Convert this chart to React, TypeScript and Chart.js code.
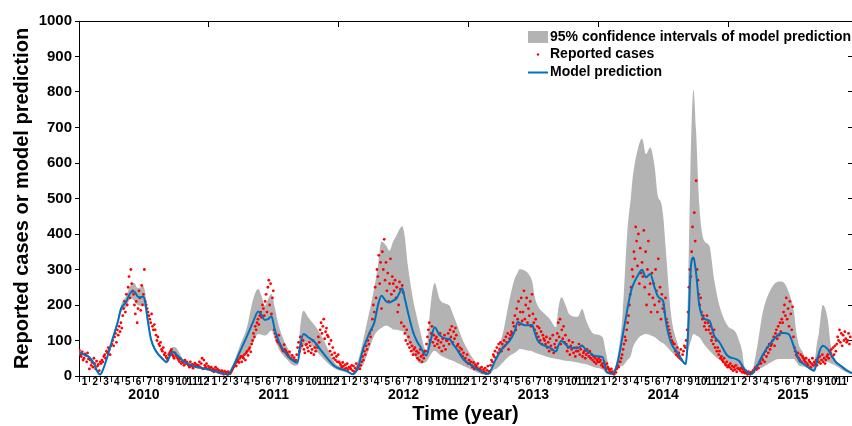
import React, { useEffect, useRef } from 'react';
import { Chart, registerables } from 'chart.js';

Chart.register(...registerables);

const FONT = '"Liberation Sans", Arial, Helvetica, sans-serif';
const BAND = 'rgb(179,179,179)';
const RED = 'rgb(255,0,0)';
const BLUE = 'rgb(0,114,189)';

const monthLabels = ['1', '2', '3', '4', '5', '6', '7', '8', '9', '10', '11', '12'];
const yearLabels = ['2010', '2011', '2012', '2013', '2014', '2015'];
const xMaxMonth = 71.45;
const legendLabels = ['95% confidence intervals of model prediction', 'Reported cases', 'Model prediction'];

// Model prediction knots (months since Jan 2010)
const predMonth = [
  0, 0.5, 0.95, 1.4, 1.72, 1.94, 2.18, 2.65, 3.1, 3.57,
  3.88, 4.34, 4.8, 5.1, 5.42, 5.72, 5.88, 6.1, 6.34, 6.65,
  7.1, 7.73, 8.1, 8.34, 8.65, 8.96, 9.3, 9.57, 10.5, 12,
  12.96, 13.5, 13.8, 14.2, 14.87, 15.5, 16.1, 16.56, 16.87, 17.17,
  17.48, 17.79, 18.1, 18.4, 18.56, 19.18, 19.95, 20.2, 20.45, 20.75,
  21.2, 21.8, 22.4, 23, 23.6, 24.25, 24.7, 25.3, 25.8, 26.26,
  26.56, 26.87, 27.3, 27.64, 27.95, 28.4, 28.7, 29, 29.33, 29.64,
  29.88, 30.1, 30.4, 30.87, 31.2, 31.5, 32.1, 32.5, 32.87, 33.33,
  33.95, 34.26, 34.56, 34.87, 35.5, 36.4, 37, 37.8, 38.4, 38.57,
  39.2, 39.8, 40.26, 40.56, 40.7, 41.2, 41.6, 41.9, 42.1, 42.4,
  42.7, 43.5, 44.1, 44.3, 44.6, 45, 45.3, 46.1, 46.5, 46.9,
  47.3, 47.6, 48.4, 48.7, 49, 49.3, 49.8, 50.26, 50.7, 51,
  51.2, 51.65, 52.05, 52.4, 52.8, 53.2, 53.5, 53.8, 54, 54.26,
  54.7, 55.3, 55.95, 56.1, 56.3, 56.57, 56.8, 57.03, 57.34, 57.8,
  58.26, 58.7, 59.2, 59.95, 60.7, 61, 61.3, 61.5, 61.8, 62.1,
  62.7, 63.2, 63.96, 64.7, 65.1, 65.6, 66.1, 66.3, 66.57, 66.9,
  67.2, 67.96, 68.2, 68.4, 68.75, 69.2, 69.5, 69.95, 70.4, 71, 71.45,
];
const predMid = [
  66, 60, 53, 34, 11, 4, 15, 57, 104, 151,
  189, 208, 236, 238, 224, 222, 224, 212, 160, 104,
  71, 48, 39, 53, 68, 62, 52, 43, 29, 18,
  10, 6, 4, 24, 68, 110, 153, 182, 172, 158,
  160, 168, 130, 104, 92, 60, 40, 38, 85, 118,
  109, 95, 71, 48, 28, 19, 15, 5, 24, 76,
  100, 123, 151, 200, 226, 210, 207, 212, 217, 235,
  247, 220, 180, 125, 100, 85, 58, 100, 137, 115,
  105, 104, 90, 78, 48, 28, 15, 6, 39, 50,
  80, 99, 125, 153, 150, 143, 143, 144, 125, 100,
  90, 80, 69, 85, 99, 88, 81, 78, 85, 72,
  64, 57, 53, 15, 8, 6, 40, 115, 190, 236,
  255, 283, 299, 278, 287, 250, 225, 217, 210, 151,
  95, 67, 36, 34, 123, 311, 334, 292, 198, 161,
  156, 114, 95, 57, 48, 43, 29, 20, 10, 5,
  29, 60, 94, 118, 121, 118, 81, 65, 43, 36,
  29, 15, 39, 65, 85, 76, 60, 40, 29, 15, 8,
];
const predLow = [
  62, 56, 49, 31, 9, 2, 12, 53, 98, 143,
  178, 193, 218, 212, 200, 198, 203, 190, 145, 96,
  66, 45, 36, 48, 60, 55, 47, 39, 26, 15,
  8, 4, 2, 20, 48, 62, 95, 118, 116, 114,
  120, 128, 104, 80, 71, 48, 29, 30, 60, 88,
  95, 75, 55, 36, 22, 14, 10, 3, 18, 30,
  55, 80, 114, 128, 135, 142, 138, 132, 130, 128,
  126, 123, 100, 65, 48, 35, 40, 60, 71, 60,
  50, 46, 43, 38, 29, 16, 8, 3, 18, 20,
  39, 57, 65, 72, 76, 74, 71, 70, 66, 63,
  60, 52, 48, 47, 45, 43, 42, 38, 35, 33,
  28, 25, 18, 8, 4, 2, 25, 29, 45, 57,
  80, 105, 115, 118, 115, 110, 103, 95, 92, 85,
  70, 52, 34, 30, 70, 100, 118, 115, 109, 88,
  72, 58, 45, 30, 25, 22, 18, 12, 6, 3,
  18, 25, 39, 48, 48, 48, 48, 40, 29, 27,
  25, 14, 30, 34, 42, 40, 35, 29, 20, 10, 5,
];
const predHigh = [
  70, 64, 57, 37, 14, 7, 18, 61, 110, 160,
  200, 225, 257, 262, 248, 250, 254, 238, 178, 114,
  77, 52, 43, 62, 82, 80, 64, 50, 33, 21,
  13, 9, 6, 30, 85, 135, 217, 245, 226, 198,
  217, 231, 193, 150, 132, 85, 48, 42, 140, 184,
  165, 142, 114, 76, 39, 24, 18, 7, 45, 100,
  142, 185, 250, 311, 378, 367, 353, 376, 395, 414,
  422, 395, 311, 217, 170, 132, 72, 200, 262, 217,
  203, 198, 175, 151, 99, 50, 28, 10, 45, 57,
  123, 217, 273, 292, 301, 297, 285, 265, 226, 198,
  185, 161, 137, 190, 222, 198, 175, 167, 189, 155,
  128, 118, 109, 67, 25, 8, 60, 179, 414, 500,
  564, 639, 669, 625, 644, 592, 508, 489, 450, 348,
  179, 95, 39, 60, 250, 656, 806, 696, 480, 381,
  367, 273, 198, 142, 123, 100, 70, 25, 12, 6,
  85, 179, 245, 266, 264, 236, 179, 123, 85, 67,
  45, 39, 90, 123, 200, 161, 85, 45, 32, 18, 10,
];

// Reported cases: 12 readings per month, Jan..Dec
const reported2010 = [
  72, 60, 55, 68, 45, 50, 62, 58, 40, 65, 48, 20,
  45, 30, 38, 25, 50, 35, 20, 42, 28, 33, 15, 40,
  35, 45, 40, 55, 60, 50, 70, 65, 80, 75, 60, 85,
  90, 100, 85, 110, 120, 95, 130, 115, 140, 125, 150, 135,
  170, 190, 210, 180, 230, 200, 250, 280, 220, 300, 260, 240,
  230, 200, 175, 210, 150, 190, 240, 220, 185, 255, 200, 230,
  300, 210, 200, 190, 180, 170, 160, 150, 175, 140, 130, 145,
  130, 115, 100, 110, 90, 85, 95, 75, 70, 80, 60, 65,
  55, 50, 45, 60, 65, 70, 75, 60, 55, 50, 65, 58,
  55, 50, 45, 40, 48, 35, 42, 38, 30, 45, 35, 40,
  35, 30, 25, 40, 28, 33, 22, 30, 36, 27, 32, 25,
  30, 40, 25, 35, 50, 20, 45, 30, 25, 35, 20, 28,
];
const reported2011 = [
  22, 18, 25, 15, 20, 12, 18, 25, 14, 20, 10, 16,
  12, 8, 15, 10, 5, 14, 7, 10, 4, 12, 8, 6,
  10, 15, 20, 25, 30, 35, 28, 40, 45, 38, 50, 55,
  40, 55, 50, 60, 45, 65, 70, 58, 75, 80, 68, 90,
  100, 120, 110, 140, 130, 150, 160, 145, 170, 180, 165, 200,
  190, 170, 210, 230, 180, 250, 270, 200, 260, 175, 220, 240,
  130, 120, 110, 100, 95, 115, 90, 85, 80, 75, 70, 88,
  75, 70, 65, 60, 55, 68, 50, 48, 58, 45, 52, 42,
  45, 60, 80, 95, 70, 110, 90, 85, 100, 75, 65, 88,
  90, 80, 70, 95, 85, 65, 75, 100, 60, 80, 70, 88,
  80, 110, 95, 130, 150, 120, 140, 160, 105, 125, 135, 115,
  110, 90, 70, 100, 60, 80, 50, 65, 45, 55, 40, 60,
];
const reported2012 = [
  40, 35, 30, 25, 38, 28, 20, 32, 22, 35, 18, 25,
  25, 20, 30, 15, 28, 12, 22, 35, 18, 26, 30, 20,
  30, 40, 55, 45, 70, 60, 85, 75, 100, 90, 120, 110,
  130, 160, 200, 180, 250, 220, 300, 280, 340, 260, 320, 190,
  350, 300, 385, 270, 320, 240, 290, 210, 260, 330, 230, 280,
  260, 240, 270, 220, 250, 180, 200, 265, 245, 150, 255, 235,
  140, 120, 100, 130, 90, 110, 80, 95, 70, 85, 60, 75,
  80, 60, 70, 50, 65, 45, 75, 55, 40, 60, 50, 70,
  70, 90, 110, 130, 150, 100, 120, 140, 95, 115, 85, 105,
  110, 90, 100, 80, 120, 95, 70, 105, 85, 115, 75, 100,
  100, 120, 90, 130, 110, 140, 95, 125, 105, 135, 115, 85,
  90, 70, 80, 60, 75, 55, 65, 45, 50, 40, 60, 35,
];
const reported2013 = [
  45, 35, 40, 30, 25, 38, 20, 32, 28, 22, 35, 18,
  20, 15, 25, 10, 18, 12, 22, 8, 16, 28, 14, 10,
  30, 45, 40, 60, 55, 70, 50, 80, 65, 90, 75, 95,
  70, 90, 80, 100, 85, 110, 95, 120, 75, 105, 115, 125,
  120, 150, 140, 170, 130, 190, 160, 210, 145, 180, 220, 155,
  180, 240, 160, 200, 220, 150, 190, 170, 210, 140, 230, 175,
  150, 130, 160, 120, 140, 110, 135, 100, 125, 90, 115, 105,
  100, 90, 110, 80, 95, 70, 105, 85, 75, 115, 65, 90,
  80, 100, 120, 150, 110, 160, 90, 130, 105, 140, 95, 115,
  90, 70, 80, 100, 60, 85, 75, 95, 65, 80, 55, 70,
  80, 70, 90, 60, 75, 85, 55, 65, 70, 50, 60, 75,
  65, 55, 70, 50, 60, 45, 55, 40, 50, 35, 45, 40,
];
const reported2014 = [
  50, 40, 45, 30, 35, 25, 40, 30, 20, 35, 25, 20,
  15, 10, 20, 12, 8, 5, 15, 10, 20, 30, 25, 40,
  40, 50, 60, 75, 90, 110, 100, 130, 150, 170, 200, 230,
  250, 300, 280, 350, 330, 420, 380, 310, 400, 260, 360, 290,
  320, 280, 410, 250, 350, 200, 300, 380, 230, 260, 180, 290,
  220, 260, 200, 300, 240, 180, 330, 210, 250, 160, 230, 190,
  200, 180, 220, 160, 150, 140, 130, 120, 110, 100, 95, 90,
  90, 70, 60, 80, 55, 65, 50, 75, 45, 60, 70, 85,
  80, 100, 130, 180, 250, 300, 280, 350, 420, 330, 460, 380,
  550, 300, 270, 230, 200, 220, 180, 160, 170, 140, 150, 130,
  170, 150, 130, 140, 120, 100, 110, 90, 130, 80, 100, 70,
  80, 60, 70, 50, 55, 45, 40, 50, 35, 30, 40, 25,
];
const reported2015 = [
  30, 25, 35, 20, 28, 15, 25, 18, 30, 12, 22, 20,
  20, 15, 22, 10, 18, 12, 8, 15, 10, 5, 12, 8,
  5, 10, 8, 15, 12, 20, 25, 18, 30, 22, 35, 40,
  35, 50, 45, 60, 40, 70, 55, 80, 65, 90, 75, 85,
  90, 100, 110, 85, 120, 130, 105, 140, 115, 150, 125, 160,
  150, 180, 200, 170, 220, 160, 190, 140, 210, 175, 130, 195,
  110, 80, 70, 60, 55, 65, 50, 45, 60, 40, 55, 50,
  45, 40, 50, 35, 30, 45, 40, 25, 35, 50, 30, 40,
  35, 45, 30, 50, 40, 55, 35, 45, 60, 40, 50, 35,
  45, 55, 60, 50, 70, 65, 75, 55, 80, 60, 85, 70,
  90, 110, 100, 130, 95, 120, 85, 115, 100, 125, 105, 95,
  100, 120, 90, 110,
];
const reportedByYear = [reported2010, reported2011, reported2012, reported2013, reported2014, reported2015];

function knotPoints(ys: number[]) {
  return predMonth.map((x, i) => ({ x, y: ys[i] }));
}

function reportedPoints() {
  const pts: { x: number; y: number }[] = [];
  reportedByYear.forEach((arr, yi) => {
    arr.forEach((v, i) => {
      const month = yi * 12 + Math.floor(i / 12);
      pts.push({ x: month + ((i % 12) + 0.5) / 12, y: v });
    });
  });
  return pts;
}

const insideLegend = {
  id: 'insideLegend',
  afterDraw(chart: any) {
    const { ctx, chartArea } = chart;
    const swX = chartArea.right - 324;
    const textX = swX + 22;
    const rows = [chartArea.top + 16, chartArea.top + 33.5, chartArea.top + 51.5];
    ctx.save();
    ctx.fillStyle = BAND;
    ctx.fillRect(swX, rows[0] - 6, 20, 12);
    ctx.fillStyle = RED;
    ctx.beginPath();
    ctx.arc(swX + 10, rows[1], 1.2, 0, Math.PI * 2);
    ctx.fill();
    ctx.strokeStyle = BLUE;
    ctx.lineWidth = 2;
    ctx.beginPath();
    ctx.moveTo(swX, rows[2]);
    ctx.lineTo(swX + 20, rows[2]);
    ctx.stroke();
    ctx.fillStyle = '#000';
    ctx.font = `bold 14px ${FONT}`;
    ctx.textBaseline = 'middle';
    ctx.textAlign = 'left';
    legendLabels.forEach((t, i) => ctx.fillText(t, textX, rows[i]));
    ctx.restore();
  },
};

export default function App() {
  const ref = useRef<HTMLCanvasElement | null>(null);

  useEffect(() => {
    if (!ref.current) return;
    const monthCenters = Array.from({ length: 71 }, (_, m) => ({ value: m + 0.5 }));
    const yearCenters = yearLabels.map((_, i) => ({ value: i * 12 + 6 }));
    const yearBounds = yearLabels.slice(1).map((_, i) => ({ value: (i + 1) * 12 }));

    const chart = new Chart(ref.current, {
      type: 'line',
      data: {
        datasets: [
          {
            label: 'lower',
            data: knotPoints(predLow),
            borderWidth: 0,
            pointRadius: 0,
            fill: false,
            cubicInterpolationMode: 'monotone',
            order: 4,
          },
          {
            label: legendLabels[0],
            data: knotPoints(predHigh),
            borderWidth: 0,
            pointRadius: 0,
            fill: '-1',
            backgroundColor: BAND,
            cubicInterpolationMode: 'monotone',
            order: 3,
          },
          {
            label: legendLabels[1],
            data: reportedPoints(),
            showLine: false,
            pointRadius: 1.4,
            pointBorderWidth: 0,
            pointBackgroundColor: RED,
            order: 2,
          },
          {
            label: legendLabels[2],
            data: knotPoints(predMid),
            borderColor: BLUE,
            borderWidth: 2,
            pointRadius: 0,
            fill: false,
            cubicInterpolationMode: 'monotone',
            order: 1,
          },
        ],
      } as any,
      options: {
        animation: false,
        responsive: false,
        maintainAspectRatio: false,
        layout: { padding: 0, autoPadding: false } as any,
        plugins: { legend: { display: false }, tooltip: { enabled: false } },
        scales: {
          x: {
            type: 'linear',
            position: 'bottom',
            weight: 0,
            min: 0,
            max: xMaxMonth,
            afterBuildTicks: (s: any) => { s.ticks = monthCenters; },
            afterFit: (s: any) => { s.height = 12; },
            grid: { drawOnChartArea: false, offset: true, tickLength: 6, color: '#000', tickColor: '#000' },
            border: { color: '#000', width: 1 },
            ticks: {
              autoSkip: false,
              maxRotation: 0,
              minRotation: 0,
              padding: -6,
              color: '#000',
              font: { family: FONT, size: 10, weight: 'bold' },
              callback: (v: any) => monthLabels[Math.floor(Number(v)) % 12],
            },
          },
          x2: {
            type: 'linear',
            position: 'bottom',
            weight: 1,
            min: 0,
            max: xMaxMonth,
            afterBuildTicks: (s: any) => { s.ticks = yearCenters; },
            afterFit: (s: any) => { s.height = 38; },
            grid: { display: false, drawTicks: false },
            border: { display: false },
            ticks: {
              autoSkip: false,
              maxRotation: 0,
              minRotation: 0,
              padding: -1,
              color: '#000',
              font: { family: FONT, size: 14, weight: 'bold' },
              callback: (v: any) => yearLabels[Math.floor(Number(v) / 12)],
            },
            title: {
              display: true,
              text: 'Time (year)',
              color: '#000',
              font: { family: FONT, size: 20, weight: 'bold' },
              padding: { top: 0, bottom: 0 },
            },
          },
          xTop: {
            type: 'linear',
            position: 'top',
            min: 0,
            max: xMaxMonth,
            afterBuildTicks: (s: any) => { s.ticks = yearBounds; },
            afterFit: (s: any) => { s.height = 21; },
            grid: { drawOnChartArea: false, tickLength: -6, color: '#000', tickColor: '#000' },
            border: { color: '#000', width: 1 },
            ticks: { display: false },
          },
          y: {
            type: 'linear',
            position: 'left',
            min: 0,
            max: 1000,
            afterFit: (s: any) => { s.width = 79; },
            grid: { drawOnChartArea: false, tickLength: 4, color: '#000', tickColor: '#000' },
            border: { color: '#000', width: 1 },
            ticks: {
              stepSize: 100,
              padding: 3,
              color: '#000',
              font: { family: FONT, size: 15, weight: 'bold' },
              callback: (v: any) => String(v),
            },
            title: {
              display: true,
              text: 'Reported cases or model prediction',
              color: '#000',
              font: { family: FONT, size: 20, weight: 'bold' },
              padding: { top: 10, bottom: 0 },
            },
          },
          yRight: {
            type: 'linear',
            position: 'right',
            min: 0,
            max: 1000,
            afterFit: (s: any) => { s.width = 0; },
            grid: { drawOnChartArea: false, tickLength: -4, color: '#000', tickColor: '#000' },
            border: { color: '#000', width: 1 },
            ticks: { display: false, stepSize: 100 },
          },
        },
      } as any,
      plugins: [insideLegend],
    });
    return () => chart.destroy();
  }, []);

  return (
    <div style={{ position: 'fixed', left: 0, top: 0, width: 852, height: 426, overflow: 'hidden', background: '#fff' }}>
      <canvas ref={ref} width={852} height={426} style={{ display: 'block' }} />
    </div>
  );
}
